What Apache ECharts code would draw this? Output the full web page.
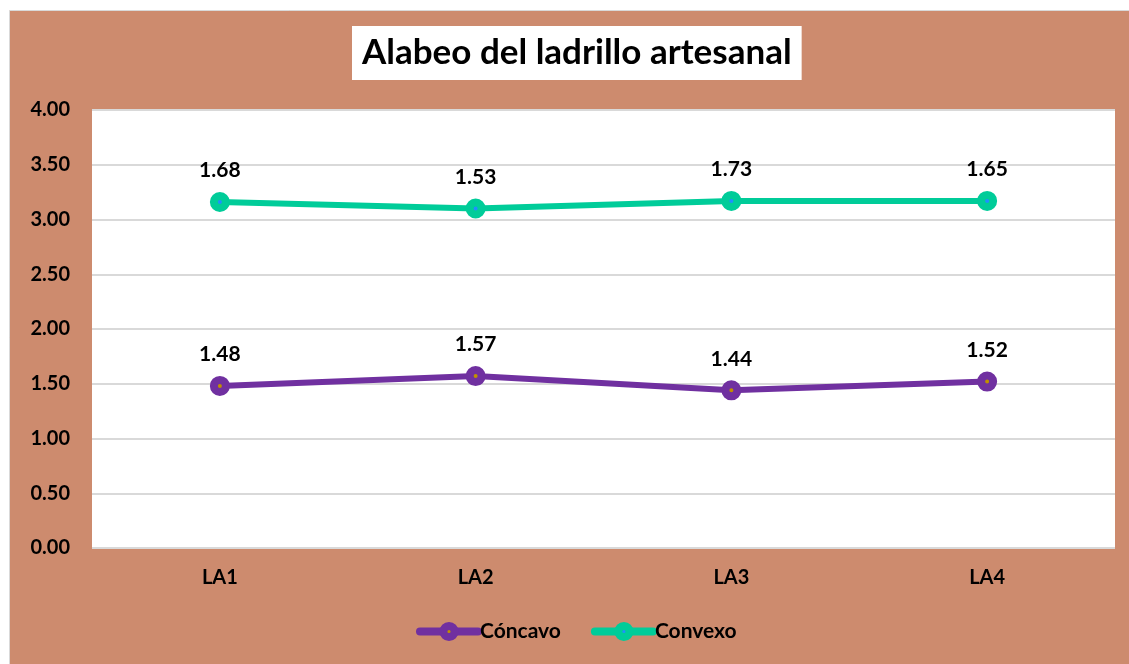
<!DOCTYPE html>
<html>
<head>
<meta charset="utf-8">
<script src="https://cdn.jsdelivr.net/npm/echarts@6/dist/echarts.min.js"></script>
<style>
  html, body { margin: 0; padding: 0; background: #fff; }
  #main { width: 1129px; height: 664px; }
</style>
</head>
<body>
<div id="main"></div>
<script>
const categories = ['LA1', 'LA2', 'LA3', 'LA4']
const concavo = [1.48, 1.57, 1.44, 1.52]
const convexo = [1.68, 1.53, 1.73, 1.65]
const yTicks = { min: 0, max: 4, interval: 0.5 }

const font = 'Lato, "Open Sans", sans-serif'

const chart = echarts.init(document.getElementById('main'))

let option = {
    backgroundColor: '#fff',
    graphic: [
        {
            type: 'rect',
            z: -10,
            shape: { x: 9.5, y: 10.5, width: 1125, height: 660 },
            style: { fill: '#CD8B6E', stroke: '#d9d9d9', lineWidth: 1 },
            silent: true
        }
    ],
    title: {
        text: 'Alabeo del ladrillo artesanal',
        left: 352,
        top: 26,
        backgroundColor: '#fff',
        padding: [8, 10, 8, 10],
        textStyle: {
            fontFamily: font,
            fontWeight: 'bold',
            fontSize: 35,
            color: '#000',
            lineHeight: 38
        }
    },
    legend: {
        bottom: 17,
        left: 411,
        itemWidth: 58,
        itemHeight: 14,
        itemGap: 30,
        lineStyle: { width: 8, cap: 'round' },
        itemStyle: { borderWidth: 8 },
        textStyle: {
            fontFamily: font,
            fontWeight: 'bold',
            fontSize: 21,
            color: '#000',
            padding: [0, 0, 0, -3]
        },
        data: ['Cóncavo', 'Convexo']
    },
    grid: {
        left: 92,
        right: 14,
        top: 110,
        bottom: 116,
        show: true,
        backgroundColor: '#fff',
        borderWidth: 0
    },
    xAxis: {
        type: 'category',
        data: categories,
        axisLine: { show: false },
        axisTick: { show: false },
        axisLabel: {
            margin: 20,
            fontFamily: font,
            fontWeight: 'bold',
            fontSize: 20,
            color: '#000'
        }
    },
    yAxis: {
        type: 'value',
        min: yTicks.min,
        max: yTicks.max,
        interval: yTicks.interval,
        axisLine: { show: false },
        axisTick: { show: false },
        splitLine: { lineStyle: { color: '#d9d9d9', width: 2 } },
        axisLabel: {
            margin: 22,
            fontFamily: font,
            fontWeight: 'bold',
            fontSize: 20,
            color: '#000',
            formatter: v => v.toFixed(2)
        }
    },
    series: [
        {
            name: 'Cóncavo',
            type: 'line',
            stack: 'total',
            data: concavo,
            symbol: 'circle',
            symbolSize: 12,
            lineStyle: { color: '#7030A0', width: 6 },
            itemStyle: { color: '#C09000', borderColor: '#7030A0', borderWidth: 8 },
            label: {
                show: true,
                position: 'top',
                distance: 11,
                fontFamily: font,
                fontWeight: 'bold',
                fontSize: 21,
                color: '#000',
                formatter: p => p.value.toFixed(2)
            },
            emphasis: { disabled: true }
        },
        {
            name: 'Convexo',
            type: 'line',
            stack: 'total',
            data: convexo,
            symbol: 'circle',
            symbolSize: 12,
            lineStyle: { color: '#00CC99', width: 6 },
            itemStyle: { color: '#1E90FF', borderColor: '#00CC99', borderWidth: 8 },
            label: {
                show: true,
                position: 'top',
                distance: 11,
                fontFamily: font,
                fontWeight: 'bold',
                fontSize: 21,
                color: '#000',
                formatter: p => p.value.toFixed(2)
            },
            emphasis: { disabled: true }
        }
    ]
}

option && chart.setOption(option)
</script>
</body>
</html>
